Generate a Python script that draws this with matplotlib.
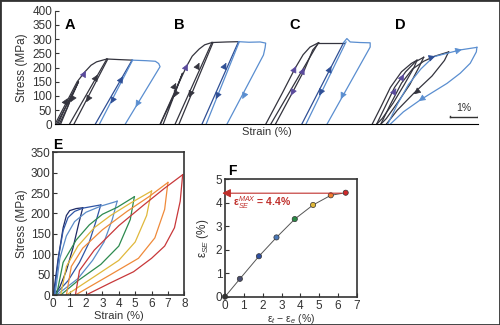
import matplotlib
matplotlib.use("Agg")
import matplotlib.pyplot as plt
from matplotlib.patches import Rectangle

plt.rcParams["font.family"] = ["Liberation Sans", "DejaVu Sans"]
plt.rcParams["mathtext.fontset"] = "custom"
plt.rcParams["mathtext.rm"] = "Liberation Sans"
plt.rcParams["mathtext.it"] = "Liberation Sans:italic"
plt.rcParams["mathtext.bf"] = "Liberation Sans:bold"

# ---- colours ----
COL = {"k": "#34343e", "p": "#5a4a9c", "b": "#5a8ed0", "d": "#2f4f95"}

# ---- top panel (A-D): cyclic curves, strain (%) vs stress (MPa) ----
A_lines = [
    ("k", [(0.05, 0), (0.35, 55), (0.62, 105), (0.45, 60), (0.15, 0)]),
    ("k", [(0.1, 0), (0.5, 85), (0.85, 150), (0.6, 95), (0.2, 0)]),
    ("k", [(0.0, 0), (0.4, 75), (0.8, 150), (1.08, 185), (1.3, 208), (1.5, 220), (1.87, 230)]),
    ("k", [(1.87, 230), (0.52, 0)]),
    ("k", [(0.68, 0), (1.9, 229)]),
    ("k", [(1.87, 230), (2.3, 228), (2.78, 226)]),
    ("d", [(2.78, 226), (1.45, 0)]),
    ("b", [(1.6, 0), (2.8, 226)]),
    ("b", [(2.78, 226), (3.3, 224), (3.62, 222), (3.74, 214), (3.79, 203), (2.53, 0)]),
]
A_arrows = [
    (1.08, 182, 0.04, 7, "p"), (1.5, 168, 0.04, 7, "k"), (1.17, 85, -0.04, -7, "k"),
    (0.42, 85, 0.04, 7, "k"), (0.6, 85, -0.04, -7, "k"), (2.41, 162, 0.04, 7, "d"),
    (2.05, 80, -0.04, -7, "d"), (2.95, 68, -0.04, -7, "b"),
]

B_lines = [
    ("k", [(3.8, 0), (4.25, 95), (4.6, 180), (4.35, 115), (3.9, 0)]),
    ("k", [(3.79, 0), (4.3, 110), (4.75, 205), (4.95, 240), (5.2, 265), (5.4, 280), (5.66, 288)]),
    ("k", [(5.66, 288), (4.33, 0)]),
    ("k", [(4.47, 0), (5.7, 288)]),
    ("k", [(5.66, 288), (6.2, 290), (6.62, 291)]),
    ("d", [(6.62, 291), (5.3, 0)]),
    ("b", [(5.45, 0), (6.65, 291)]),
    ("b", [(6.62, 291), (7.0, 289), (7.4, 290), (7.6, 286), (7.58, 270), (7.52, 244), (6.2, 0)]),
]
B_arrows = [
    (4.75, 205, 0.04, 8, "p"), (5.17, 209, 0.04, 8, "k"), (4.33, 138, 0.04, 8, "k"),
    (4.33, 103, -0.04, -8, "k"), (4.87, 103, -0.04, -8, "k"), (6.14, 209, 0.04, 8, "d"),
    (5.84, 97, -0.04, -8, "d"), (6.8, 97, -0.04, -8, "b"),
]

C_lines = [
    ("k", [(7.6, 0), (8.2, 110), (8.66, 197), (8.95, 245), (9.2, 272), (9.5, 287)]),
    ("k", [(9.5, 287), (7.78, 0)]),
    ("k", [(7.95, 0), (8.5, 100), (9.0, 192), (9.3, 262), (9.52, 287)]),
    ("k", [(9.51, 287), (10.0, 287), (10.41, 287)]),
    ("d", [(10.41, 287), (8.9, 0)]),
    ("b", [(9.05, 0), (10.5, 290)]),
    ("b", [(10.41, 288), (10.53, 302), (10.65, 290), (11.0, 288), (11.37, 287), (11.37, 272), (9.81, 0)]),
]
C_arrows = [
    (8.66, 197, 0.04, 8, "p"), (8.96, 191, 0.04, 8, "p"), (8.55, 109, -0.04, -8, "p"),
    (9.93, 197, 0.04, 8, "d"), (9.57, 109, -0.04, -8, "d"), (10.35, 97, -0.04, -8, "b"),
]

D_lines = [
    ("k", [(11.44, 0), (11.75, 60), (12.1, 130), (12.5, 185), (12.85, 214), (13.06, 226)]),
    ("k", [(13.06, 226), (12.95, 200), (12.6, 140), (12.2, 75), (11.8, 20), (11.6, 0)]),
    ("k", [(11.6, 0), (11.9, 60), (12.25, 130), (12.65, 185), (13.0, 220), (13.3, 236)]),
    ("k", [(13.3, 236), (13.15, 205), (12.8, 140), (12.35, 75), (11.95, 20), (11.75, 0)]),
    ("k", [(11.75, 0), (12.1, 70), (12.5, 145), (12.9, 195), (13.3, 222), (13.7, 240), (14.2, 255)]),
    ("k", [(14.2, 255), (14.05, 225), (13.6, 170), (12.95, 110), (12.35, 50), (11.95, 0)]),
    ("b", [(12.0, 0), (12.35, 70), (12.75, 140), (13.2, 195), (13.66, 238), (14.3, 254), (14.62, 262), (15.22, 271)]),
    ("b", [(15.22, 271), (15.2, 255), (14.98, 215), (14.62, 180), (14.14, 144), (13.18, 86), (12.57, 44), (12.09, 0)]),
]
D_arrows = [
    (12.27, 120, 0.04, 7, "p"), (12.55, 170, 0.04, 7, "p"), (13.0, 110, -0.05, -4, "k"),
    (13.66, 238, 0.06, 2, "d"), (14.62, 262, 0.06, 1.5, "b"), (13.18, 86, -0.06, -4, "b"),
]

panel_letters = ["A", "B", "C", "D"]
letter_x = [0.55, 4.5, 8.66, 12.45]
scalebar_x = [14.26, 15.26]

# ---- panel E: cyclic loops with increasing maximum strain ----
E_colors = ["#1e2a66", "#2f55a5", "#5b8cc8", "#2d8a4e", "#e0b83c", "#ef8a3a", "#c8383a"]
E_load = [
    [(0.0, 0), (0.3, 90), (0.6, 165), (0.8, 195), (1.0, 207), (1.4, 212), (1.8, 214)],
    [(0.05, 0), (0.35, 100), (0.6, 158), (0.9, 190), (1.3, 205), (1.8, 213), (2.9, 221)],
    [(0.1, 0), (0.4, 90), (0.8, 145), (1.3, 180), (2.0, 203), (2.9, 218), (3.9, 230)],
    [(0.2, 0), (0.6, 80), (1.4, 135), (2.2, 172), (3.0, 198), (3.9, 215), (4.95, 241)],
    [(0.45, 0), (0.8, 70), (1.5, 120), (2.5, 165), (3.5, 195), (4.7, 225), (6.0, 255)],
    [(0.8, 0), (1.1, 70), (1.8, 115), (3.0, 160), (4.5, 205), (5.8, 240), (7.0, 276)],
    [(1.35, 0), (1.6, 60), (2.5, 110), (4.0, 170), (5.5, 220), (6.8, 262), (7.9, 295)],
]
E_unload = [
    [(1.8, 214), (1.55, 175), (1.2, 115), (0.8, 60), (0.4, 20), (0.05, 0)],
    [(2.9, 221), (2.6, 180), (2.2, 130), (1.6, 80), (0.9, 35), (0.1, 0)],
    [(3.9, 230), (3.6, 185), (3.1, 130), (2.4, 85), (1.5, 40), (0.2, 0)],
    [(4.95, 241), (4.7, 185), (4.0, 120), (2.9, 75), (1.5, 35), (0.45, 0)],
    [(6.0, 255), (5.7, 195), (5.0, 130), (4.0, 85), (2.5, 45), (0.8, 0)],
    [(7.0, 276), (6.8, 210), (6.2, 140), (5.2, 90), (3.5, 50), (1.35, 0)],
    [(7.9, 295), (7.75, 230), (7.4, 165), (6.8, 120), (6.0, 90), (4.9, 57), (3.5, 30), (2.0, 0)],
]

# ---- panel F: superelastic strain ----
F_x = [0.0, 0.79, 1.8, 2.73, 3.7, 4.67, 5.61, 6.4]
F_y = [0.0, 0.76, 1.72, 2.52, 3.3, 3.9, 4.31, 4.42]
F_colors = ["#333333", "#4a4e6e", "#2f4fa0", "#4a78b8", "#2a8a45", "#e0b83a", "#ee7f30", "#d0282a"]
F_max = 4.4
RED = "#c0302c"

fig = plt.figure(figsize=(5, 3.25), dpi=100)
fig.add_artist(Rectangle((0, 0), 1, 1, transform=fig.transFigure, fill=False, lw=2, ec="#333333"))

# top panel
ax = fig.add_axes([0.11, 0.6175, 0.846, 0.3495])
for lines, arrows in [(A_lines, A_arrows), (B_lines, B_arrows), (C_lines, C_arrows), (D_lines, D_arrows)]:
    for c, pts in lines:
        ax.plot([p[0] for p in pts], [p[1] for p in pts], color=COL[c], lw=0.9)
    for x, y, dx, dy, c in arrows:
        ax.annotate("", xy=(x + dx, y + dy), xytext=(x - dx, y - dy),
                    arrowprops=dict(arrowstyle="-|>,head_length=0.9,head_width=0.45",
                                    color=COL[c], lw=0.5, shrinkA=0, shrinkB=0,
                                    mutation_scale=4.5))
for lab, x in zip(panel_letters, letter_x):
    ax.text(x, 350, lab, fontsize=10.5, fontweight="bold", ha="center", va="center")
ax.plot(scalebar_x, [24, 24], color="#333333", lw=1)
ax.plot([scalebar_x[0]] * 2, [24, 31], color="#333333", lw=1)
ax.plot([scalebar_x[1]] * 2, [24, 31], color="#333333", lw=1)
ax.text(sum(scalebar_x) / 2, 40, "1%", fontsize=7.5, ha="center", va="bottom", color="#333333")
ax.set_xlim(0, 15.26)
ax.set_ylim(0, 400)
ax.set_yticks(range(0, 401, 50))
ax.set_xticks([])
for s in ["top", "right"]:
    ax.spines[s].set_visible(False)
ax.spines["left"].set_color("#444444")
ax.tick_params(axis="y", direction="in", length=3, labelsize=8.5, colors="#333333", pad=2)
ax.set_xlabel("Strain (%)", fontsize=8, color="#333333", labelpad=2)
ax.set_ylabel("Stress (MPa)", fontsize=8.5, color="#333333", labelpad=3)

# panel E
axE = fig.add_axes([0.1066, 0.0923, 0.262, 0.4391])
for c, ld, ul in zip(E_colors, E_load, E_unload):
    axE.plot([p[0] for p in ld], [p[1] for p in ld], color=c, lw=0.9)
    axE.plot([p[0] for p in ul], [p[1] for p in ul], color=c, lw=0.9)
axE.set_xlim(0, 8)
axE.set_ylim(0, 350)
axE.set_xticks(range(0, 9))
axE.set_yticks(range(0, 351, 50))
axE.tick_params(direction="in", length=3, labelsize=8.5, colors="#333333", pad=2)
for s in axE.spines.values():
    s.set_linewidth(1.2)
    s.set_color("#333333")
axE.set_xlabel("Strain (%)", fontsize=8, color="#333333", labelpad=1)
axE.set_ylabel("Stress (MPa)", fontsize=8.5, color="#333333", labelpad=2)
axE.text(0.0, 1.005, "E", transform=axE.transAxes, fontsize=10, fontweight="bold", va="bottom")

# panel F
axF = fig.add_axes([0.45, 0.087, 0.264, 0.362])
axF.plot(F_x, F_y, color="#555555", lw=0.7, zorder=2)
axF.scatter(F_x, F_y, c=F_colors, s=14, edgecolors="#333333", linewidths=0.5, zorder=3, clip_on=False)
axF.annotate("", xy=(-0.15, F_max), xytext=(F_x[-1], F_max), annotation_clip=False,
             arrowprops=dict(arrowstyle="-|>,head_length=0.5,head_width=0.25",
                             color=RED, lw=0.8, shrinkA=3, shrinkB=0))
axF.text(0.45, 4.02, "ε$_{SE}^{MAX}$ = 4.4%", color=RED, fontsize=7.5, fontweight="bold",
         ha="left", va="center")
axF.set_xlim(0, 7)
axF.set_ylim(0, 5)
axF.set_xticks(range(0, 8))
axF.set_yticks(range(0, 6))
axF.tick_params(direction="in", length=3, labelsize=8.5, colors="#333333", pad=2)
for s in axF.spines.values():
    s.set_linewidth(1.2)
    s.set_color("#333333")
axF.set_xlabel("ε$_{t}$ − ε$_{e}$ (%)", fontsize=7.5, color="#333333", labelpad=0)
axF.set_ylabel("ε$_{SE}$ (%)", fontsize=8.5, color="#333333", labelpad=3)
axF.text(0.02, 1.005, "F", transform=axF.transAxes, fontsize=10, fontweight="bold", va="bottom")

fig.savefig("out.png", dpi=100)
